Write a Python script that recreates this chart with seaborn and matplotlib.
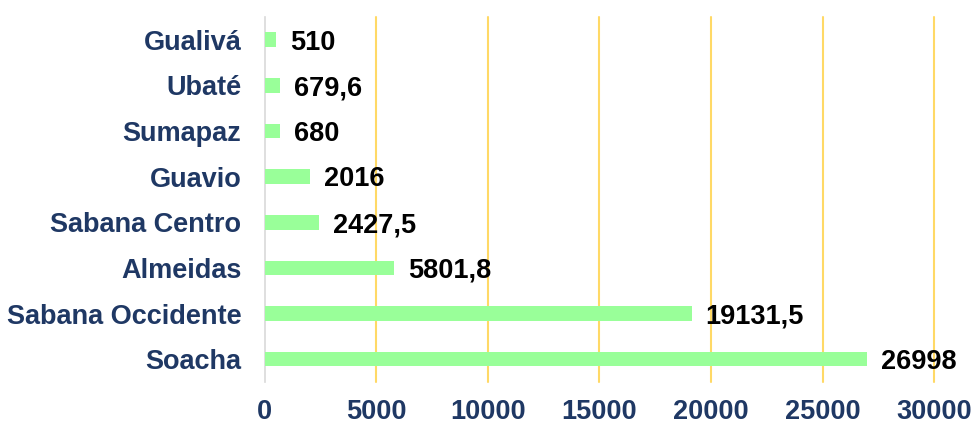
import matplotlib.pyplot as plt
import pandas as pd
import seaborn as sns

provincias = ["Gualivá", "Ubaté", "Sumapaz", "Guavio", "Sabana Centro",
              "Almeidas", "Sabana Occidente", "Soacha"]
valores = [510, 679.6, 680, 2016, 2427.5, 5801.8, 19131.5, 26998]
etiquetas = ["510", "679,6", "680", "2016", "2427,5", "5801,8", "19131,5", "26998"]
xticks = [0, 5000, 10000, 15000, 20000, 25000, 30000]

data = pd.DataFrame({"provincia": provincias, "valor": valores})

sns.set_style("white")
plt.rcParams["font.family"] = ["Liberation Sans", "DejaVu Sans"]
plt.rcParams["font.weight"] = "bold"

navy = "#1F3864"

fig = plt.figure(figsize=(9.74, 4.23), dpi=100)
ax = fig.add_axes([0.272, 0.097, 0.687, 0.863])
sns.barplot(data=data, x="valor", y="provincia", orient="h",
            color="#99FF99", saturation=1, width=0.32, linewidth=0,
            ax=ax, zorder=3)

for i, (v, t) in enumerate(zip(valores, etiquetas)):
    ax.annotate(t, xy=(v, i), xytext=(10, -2), textcoords="offset points",
                va="center", ha="left", fontsize=19.5, fontweight="bold",
                color="black", zorder=5)

ax.set_xlim(0, 30000)
ax.set_ylim(7.5, -0.5)
ax.set_xticks(xticks)
ax.set_xticklabels([str(x) for x in xticks])
for x in xticks[1:]:
    ax.axvline(x, color="#FFD966", lw=1.5, zorder=1, clip_on=False)

ax.set_xlabel("")
ax.set_ylabel("")
ax.tick_params(axis="x", length=0, pad=12, labelsize=19.5, labelcolor=navy)
ax.tick_params(axis="y", length=0, pad=17, labelsize=19.5, labelcolor=navy)
for lab in ax.get_xticklabels() + ax.get_yticklabels():
    lab.set_fontweight("bold")

sns.despine(ax=ax, top=True, right=True, bottom=True, left=False)
ax.spines["left"].set_color("#D9D9D9")
ax.spines["left"].set_linewidth(1.2)

fig.savefig("out.png", dpi=100)
